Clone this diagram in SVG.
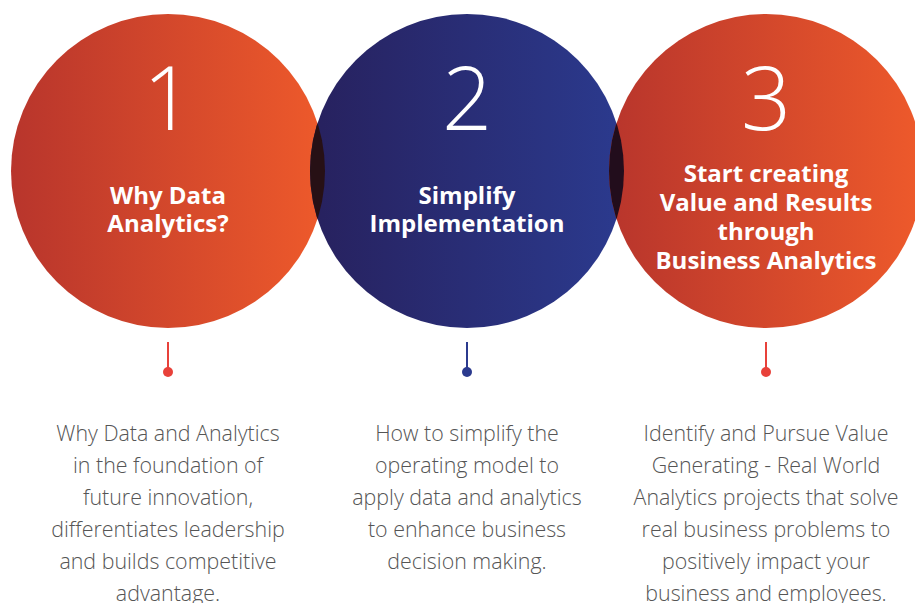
<svg xmlns="http://www.w3.org/2000/svg" width="915" height="603" viewBox="0 0 915 603">
<defs>
<linearGradient id="gOrange" x1="0" y1="0" x2="1" y2="0">
<stop offset="0" stop-color="#b8352c"/>
<stop offset="1" stop-color="#ee5a2b"/>
</linearGradient>
<linearGradient id="gBlue" x1="0" y1="0" x2="1" y2="0">
<stop offset="0" stop-color="#27215e"/>
<stop offset="1" stop-color="#2b3a8e"/>
</linearGradient>
<clipPath id="c2"><circle cx="467" cy="171" r="157"/></clipPath>
<style>
.num{font-family:"Open Sans","Liberation Sans",sans-serif;font-weight:300;font-size:88px;fill:#ffffff;text-anchor:middle}
.ttl{font-family:"Open Sans","Liberation Sans",sans-serif;font-weight:700;font-size:24px;fill:#ffffff;text-anchor:middle}
.body{font-family:"Open Sans","Liberation Sans",sans-serif;font-weight:300;font-size:21.4px;fill:#555555;text-anchor:middle}
</style>
</defs>
<rect width="915" height="603" fill="#ffffff"/>
<g id="node1">
<circle cx="168" cy="171" r="157" fill="url(#gOrange)"/>
</g>
<g id="node2">
<circle cx="467" cy="171" r="157" fill="url(#gBlue)"/>
</g>
<g id="node3">
<circle cx="766" cy="171" r="157" fill="url(#gOrange)"/>
</g>
<g id="overlaps" clip-path="url(#c2)">
<circle cx="168" cy="171" r="157" fill="#271015"/>
<circle cx="766" cy="171" r="157" fill="#220d1c"/>
</g>
<g id="labels">
<text class="num" x="168" y="130">1</text>
<text class="ttl" x="168" y="204">Why Data</text>
<text class="ttl" x="168" y="232">Analytics?</text>
<text class="num" x="467" y="130">2</text>
<text class="ttl" x="467" y="204">Simplify</text>
<text class="ttl" x="467" y="232">Implementation</text>
<text class="num" x="766" y="130">3</text>
<text class="ttl" x="766" y="182">Start creating</text>
<text class="ttl" x="766" y="211">Value and Results</text>
<text class="ttl" x="766" y="240">through</text>
<text class="ttl" x="766" y="269">Business Analytics</text>
</g>
<g id="connectors">
<line x1="168" y1="342" x2="168" y2="370" stroke="#e8413a" stroke-width="2"/>
<circle cx="168" cy="372" r="5" fill="#e8413a"/>
<line x1="467" y1="342" x2="467" y2="370" stroke="#2b3a8e" stroke-width="2"/>
<circle cx="467" cy="372" r="5" fill="#2b3a8e"/>
<line x1="766" y1="342" x2="766" y2="370" stroke="#e8413a" stroke-width="2"/>
<circle cx="766" cy="372" r="5" fill="#e8413a"/>
</g>
<g id="desc1">
<text class="body" x="168" y="441">Why Data and Analytics</text>
<text class="body" x="168" y="473">in the foundation of</text>
<text class="body" x="168" y="505">future innovation,</text>
<text class="body" x="168" y="537">differentiates leadership</text>
<text class="body" x="168" y="569">and builds competitive</text>
<text class="body" x="168" y="601">advantage.</text>
</g>
<g id="desc2">
<text class="body" x="467" y="441">How to simplify the</text>
<text class="body" x="467" y="473">operating model to</text>
<text class="body" x="467" y="505">apply data and analytics</text>
<text class="body" x="467" y="537">to enhance business</text>
<text class="body" x="467" y="569">decision making.</text>
</g>
<g id="desc3">
<text class="body" x="766" y="441">Identify and Pursue Value</text>
<text class="body" x="766" y="473">Generating - Real World</text>
<text class="body" x="766" y="505">Analytics projects that solve</text>
<text class="body" x="766" y="537">real business problems to</text>
<text class="body" x="766" y="569">positively impact your</text>
<text class="body" x="766" y="601">business and employees.</text>
</g>
</svg>
